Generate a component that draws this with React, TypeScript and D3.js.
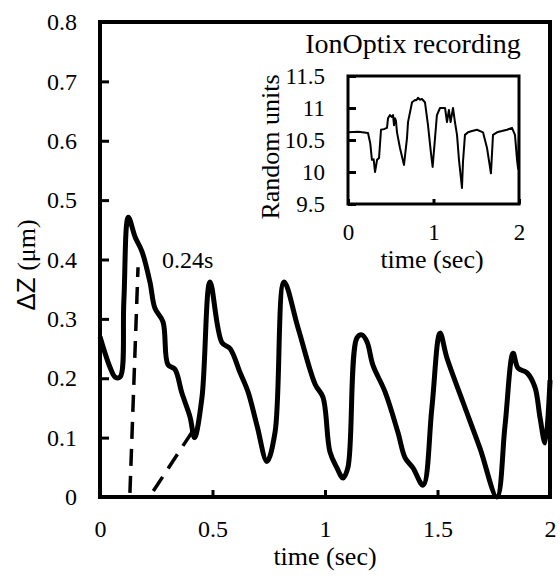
import { useRef, useEffect } from "react";
import * as d3 from "d3";

// main trace: displacement vs time
const mainTime = [
  0, 0.044, 0.067, 0.089, 0.106, 0.126, 0.156, 0.187, 0.222, 0.244, 0.28, 0.302,
  0.333, 0.364, 0.4, 0.42, 0.453, 0.489, 0.542, 0.578, 0.622, 0.658, 0.698,
  0.742, 0.778, 0.818, 0.88, 0.956, 0.991, 1.022, 1.053, 1.08, 1.102, 1.142,
  1.164, 1.187, 1.213, 1.267, 1.324, 1.356, 1.391, 1.436, 1.475, 1.511, 1.542,
  1.613, 1.689, 1.764, 1.8, 1.836, 1.858, 1.898, 1.933, 1.956, 1.978, 2.0,
];
const mainDz = [
  0.27, 0.219, 0.202, 0.202, 0.33, 0.471, 0.438, 0.413, 0.362, 0.318, 0.295,
  0.223, 0.215, 0.175, 0.135, 0.1, 0.167, 0.362, 0.26, 0.25, 0.21, 0.177, 0.12,
  0.06, 0.109, 0.362, 0.285, 0.19, 0.168, 0.076, 0.049, 0.032, 0.05, 0.268,
  0.273, 0.261, 0.222, 0.177, 0.109, 0.066, 0.049, 0.02, 0.15, 0.276, 0.234,
  0.16, 0.082, 0.0, 0.12, 0.242, 0.217, 0.209, 0.185, 0.133, 0.091, 0.197,
];

// dashed guides for rise / decay
const riseTime = [0.133, 0.169];
const riseDz = [0.007, 0.387];
const decayTime = [0.237, 0.41];
const decayDz = [0.01, 0.11];

// inset: IonOptix recording
const insetTime = [
  0, 0.12, 0.234, 0.26, 0.28, 0.3, 0.316, 0.34, 0.363, 0.386, 0.42, 0.456,
  0.468, 0.491, 0.51, 0.527, 0.538, 0.55, 0.561, 0.573, 0.608, 0.655, 0.69,
  0.702, 0.749, 0.784, 0.8, 0.819, 0.84, 0.865, 0.9, 0.936, 0.97, 0.99, 1.04,
  1.076, 1.135, 1.158, 1.18, 1.2, 1.228, 1.251, 1.275, 1.298, 1.333, 1.345,
  1.368, 1.404, 1.45, 1.509, 1.579, 1.626, 1.672, 1.696, 1.743, 1.8, 1.86,
  1.918, 1.953, 1.977, 1.99, 2.0,
];
const insetVal = [
  10.62, 10.63, 10.61, 10.45, 10.19, 10.2, 10.0, 10.19, 10.22, 10.66, 10.67,
  10.69, 10.84, 10.89, 10.86, 10.89, 10.73, 10.84, 10.8, 10.62, 10.375, 10.11,
  10.53, 10.78, 11.09, 11.125, 11.12, 11.16, 11.13, 11.14, 11.09, 10.73, 10.3,
  10.08, 10.89, 11.0, 11.0, 10.78, 10.97, 10.78, 11.0, 10.78, 10.58, 10.19,
  9.75, 10.16, 10.58, 10.62, 10.64, 10.66, 10.62, 10.375, 9.98, 10.58, 10.62,
  10.64, 10.66, 10.69, 10.58, 10.19, 10.05, 10.62,
];

const xTicks = [0, 0.5, 1, 1.5, 2];
const yTicks = [0, 0.1, 0.2, 0.3, 0.4, 0.5, 0.6, 0.7, 0.8];
const insetXTicks = [0, 1, 2];
const insetYTicks = [9.5, 10, 10.5, 11, 11.5];

const W = 560;
const H = 579;
const serif = "'Liberation Serif', 'Times New Roman', serif";

function App() {
  const svgRef = useRef<SVGSVGElement>(null);

  useEffect(() => {
    const svg = d3.select(svgRef.current);
    svg.selectAll("*").remove();

    // main plot
    const x = d3.scaleLinear().domain([0, 2]).range([100, 550]);
    const y = d3.scaleLinear().domain([0, 0.8]).range([497, 22]);

    const yAxis = svg
      .append("g")
      .attr("transform", "translate(100,0)")
      .call(
        d3.axisLeft(y).tickValues(yTicks).tickSize(-9).tickPadding(23)
          .tickFormat((d) => String(d))
      );
    const xAxis = svg
      .append("g")
      .attr("transform", "translate(0,497)")
      .call(
        d3.axisBottom(x).tickValues(xTicks).tickSize(-7).tickPadding(23)
          .tickFormat((d) => String(d))
      );
    [yAxis, xAxis].forEach((g) => {
      g.select(".domain").remove();
      g.selectAll("line").attr("stroke", "#000").attr("stroke-width", 3);
      g.selectAll("text")
        .attr("font-family", serif)
        .attr("font-size", 24)
        .attr("fill", "#000");
    });

    svg
      .append("rect")
      .attr("x", x(0))
      .attr("y", y(0.8))
      .attr("width", x(2) - x(0))
      .attr("height", y(0) - y(0.8))
      .attr("fill", "none")
      .attr("stroke", "#000")
      .attr("stroke-width", 4);

    const mainLine = d3
      .line<number>()
      .x((d, i) => x(mainTime[i]))
      .y((d) => y(d))
      .curve(d3.curveCatmullRom.alpha(0.5));

    svg
      .append("path")
      .attr("d", mainLine(mainDz))
      .attr("fill", "none")
      .attr("stroke", "#000")
      .attr("stroke-width", 5)
      .attr("stroke-linejoin", "round");

    [[riseTime, riseDz], [decayTime, decayDz]].forEach(([ts, vs]) => {
      svg
        .append("line")
        .attr("x1", x(ts[0]))
        .attr("y1", y(vs[0]))
        .attr("x2", x(ts[1]))
        .attr("y2", y(vs[1]))
        .attr("stroke", "#000")
        .attr("stroke-width", 3.5)
        .attr("stroke-dasharray", "17,10");
    });

    svg
      .append("text")
      .attr("x", 162)
      .attr("y", 268)
      .attr("font-family", serif)
      .attr("font-size", 24)
      .text("0.24s");

    svg
      .append("text")
      .attr("x", 325)
      .attr("y", 565)
      .attr("text-anchor", "middle")
      .attr("font-family", serif)
      .attr("font-size", 26)
      .text("time (sec)");

    const yLabel = svg
      .append("text")
      .attr("transform", "translate(35,265) rotate(-90)")
      .attr("text-anchor", "middle")
      .attr("font-size", 26);
    yLabel
      .append("tspan")
      .attr("font-family", "'Liberation Sans', Arial, sans-serif")
      .text("ΔZ");
    yLabel.append("tspan").attr("font-family", serif).text(" (μm)");

    // inset
    const ix = d3.scaleLinear().domain([0, 2]).range([348, 519]);
    const iy = d3.scaleLinear().domain([9.5, 11.5]).range([204, 76]);

    svg
      .append("text")
      .attr("x", 413)
      .attr("y", 53)
      .attr("text-anchor", "middle")
      .attr("font-family", serif)
      .attr("font-size", 28)
      .text("IonOptix recording");

    const iyAxis = svg
      .append("g")
      .attr("transform", "translate(348,0)")
      .call(
        d3.axisLeft(iy).tickValues(insetYTicks).tickSize(-8).tickPadding(23)
          .tickFormat((d) => String(d))
      );
    const ixAxis = svg
      .append("g")
      .attr("transform", "translate(0,204)")
      .call(
        d3.axisBottom(ix).tickValues(insetXTicks).tickSize(-5).tickPadding(20)
          .tickFormat((d) => String(d))
      );
    [iyAxis, ixAxis].forEach((g) => {
      g.select(".domain").remove();
      g.selectAll("line").attr("stroke", "#000").attr("stroke-width", 3);
      g.selectAll("text")
        .attr("font-family", serif)
        .attr("font-size", 23)
        .attr("fill", "#000");
    });

    svg
      .append("rect")
      .attr("x", ix(0))
      .attr("y", iy(11.5))
      .attr("width", ix(2) - ix(0))
      .attr("height", iy(9.5) - iy(11.5))
      .attr("fill", "none")
      .attr("stroke", "#000")
      .attr("stroke-width", 3);

    const insetLine = d3
      .line<number>()
      .x((d, i) => ix(insetTime[i]))
      .y((d) => iy(d));

    svg
      .append("path")
      .attr("d", insetLine(insetVal))
      .attr("fill", "none")
      .attr("stroke", "#000")
      .attr("stroke-width", 2)
      .attr("stroke-linejoin", "round");

    svg
      .append("text")
      .attr("x", 432)
      .attr("y", 268)
      .attr("text-anchor", "middle")
      .attr("font-family", serif)
      .attr("font-size", 26)
      .text("time (sec)");

    svg
      .append("text")
      .attr("transform", "translate(279,147) rotate(-90)")
      .attr("text-anchor", "middle")
      .attr("font-family", serif)
      .attr("font-size", 26)
      .text("Random units");
  }, []);

  return (
    <div style={{ position: "absolute", left: 0, top: 0 }}>
      <svg ref={svgRef} width={W} height={H} style={{ display: "block", background: "#fff" }} />
    </div>
  );
}

export default App;
